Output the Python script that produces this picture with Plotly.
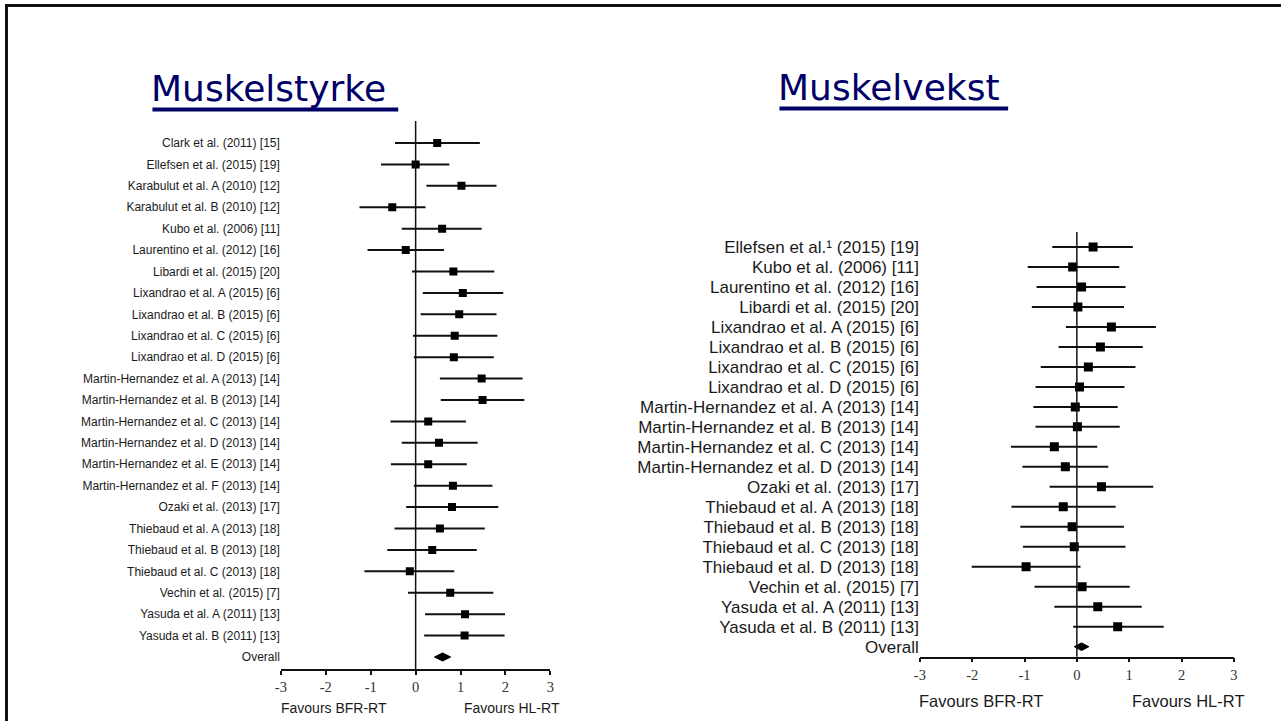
import plotly.graph_objects as go

W, H = 1285, 721

# ---------------- data: Muskelstyrke (left) ----------------
str_labels = [
    "Clark et al. (2011) [15]", "Ellefsen et al. (2015) [19]",
    "Karabulut et al. A (2010) [12]", "Karabulut et al. B (2010) [12]",
    "Kubo et al. (2006) [11]", "Laurentino et al. (2012) [16]",
    "Libardi et al. (2015) [20]", "Lixandrao et al. A (2015) [6]",
    "Lixandrao et al. B (2015) [6]", "Lixandrao et al. C (2015) [6]",
    "Lixandrao et al. D (2015) [6]", "Martin-Hernandez et al. A (2013) [14]",
    "Martin-Hernandez et al. B (2013) [14]", "Martin-Hernandez et al. C (2013) [14]",
    "Martin-Hernandez et al. D (2013) [14]", "Martin-Hernandez et al. E (2013) [14]",
    "Martin-Hernandez et al. F (2013) [14]", "Ozaki et al. (2013) [17]",
    "Thiebaud et al. A (2013) [18]", "Thiebaud et al. B (2013) [18]",
    "Thiebaud et al. C (2013) [18]", "Vechin et al. (2015) [7]",
    "Yasuda et al. A (2011) [13]", "Yasuda et al. B (2011) [13]",
]
str_est = [0.48, 0.00, 1.02, -0.52, 0.59, -0.22, 0.84, 1.05, 0.97, 0.87, 0.85, 1.47,
           1.49, 0.28, 0.52, 0.28, 0.83, 0.81, 0.54, 0.37, -0.13, 0.77, 1.10, 1.09]
str_lo = [-0.46, -0.77, 0.24, -1.25, -0.31, -1.07, -0.08, 0.16, 0.11, -0.06, -0.04, 0.54,
          0.56, -0.56, -0.31, -0.55, -0.04, -0.21, -0.47, -0.63, -1.14, -0.17, 0.21, 0.19]
str_hi = [1.43, 0.75, 1.80, 0.22, 1.47, 0.63, 1.75, 1.95, 1.80, 1.82, 1.74, 2.38,
          2.42, 1.12, 1.38, 1.14, 1.71, 1.84, 1.54, 1.36, 0.86, 1.73, 1.99, 1.98]
str_overall = (0.60, 0.42, 0.78)  # estimate, lower, upper

# ---------------- data: Muskelvekst (right) ----------------
hyp_labels = [
    "Ellefsen et al.\u00b9 (2015) [19]",
    "Kubo et al. (2006) [11]",
    "Laurentino et al. (2012) [16]", "Libardi et al. (2015) [20]",
    "Lixandrao et al. A (2015) [6]", "Lixandrao et al. B (2015) [6]",
    "Lixandrao et al. C (2015) [6]", "Lixandrao et al. D (2015) [6]",
    "Martin-Hernandez et al. A (2013) [14]", "Martin-Hernandez et al. B (2013) [14]",
    "Martin-Hernandez et al. C (2013) [14]", "Martin-Hernandez et al. D (2013) [14]",
    "Ozaki et al. (2013) [17]", "Thiebaud et al. A (2013) [18]",
    "Thiebaud et al. B (2013) [18]", "Thiebaud et al. C (2013) [18]",
    "Thiebaud et al. D (2013) [18]", "Vechin et al. (2015) [7]",
    "Yasuda et al. A (2011) [13]", "Yasuda et al. B (2011) [13]",
]
hyp_est = [0.31, -0.08, 0.09, 0.02, 0.66, 0.45, 0.22, 0.05, -0.03, 0.01,
           -0.43, -0.22, 0.47, -0.26, -0.09, -0.05, -0.97, 0.10, 0.40, 0.78]
hyp_lo = [-0.47, -0.94, -0.77, -0.86, -0.21, -0.35, -0.69, -0.79, -0.83, -0.79,
          -1.26, -1.04, -0.52, -1.25, -1.08, -1.03, -2.01, -0.81, -0.43, -0.07]
hyp_hi = [1.07, 0.81, 0.93, 0.90, 1.51, 1.26, 1.12, 0.91, 0.78, 0.82,
          0.39, 0.60, 1.46, 0.74, 0.90, 0.93, 0.07, 1.01, 1.24, 1.66]
hyp_overall = (0.09, -0.05, 0.23)

x_ticks = [-3, -2, -1, 0, 1, 2, 3]
x_ticktext = ["-3", "-2", "-1", "0", "1", "2", "3"]
fav_left, fav_right = "Favours BFR-RT", "Favours HL-RT"
titles = ["Muskelstyrke", "Muskelvekst"]

fig = go.Figure()

# horizontal calibration of the rendered page
OFF_X, SPAN_X = 9.0, 1271.0


def px_x(p):
    return min(1.0, max(0.0, (p - OFF_X) / SPAN_X))


def px_y(p):
    return 1 - p / H


def add_panel(labels, est, lo, hi, overall, xa, ya, msize, diam_h):
    n = len(labels)
    ys = [n - i for i in range(n)]
    fig.add_trace(go.Scatter(
        x=est, y=ys, mode="markers", xaxis=xa, yaxis=ya,
        marker=dict(symbol="square", size=msize, color="black"),
        error_x=dict(type="data", symmetric=False,
                     array=[h - e for h, e in zip(hi, est)],
                     arrayminus=[e - l for e, l in zip(est, lo)],
                     width=0, thickness=2, color="#111"),
        showlegend=False, hoverinfo="skip"))
    oe, ol, oh = overall
    fig.add_trace(go.Scatter(
        x=[ol, oe, oh, oe, ol], y=[0, diam_h, 0, -diam_h, 0],
        mode="lines", fill="toself", fillcolor="black",
        line=dict(color="black", width=1), xaxis=xa, yaxis=ya,
        showlegend=False, hoverinfo="skip"))
    return ys + [0], labels + ["Overall"]


# panel geometry (target pixels)
L_x0, L_x1 = 283, 551.7
L_row0, L_rowN, L_axis, L_top = 143, 657, 669, 121
L_step = (L_rowN - L_row0) / len(str_labels)
R_x0, R_x1 = 920, 1233
R_row0, R_rowN, R_axis, R_top = 247, 646.7, 656.7, 232
R_step = (R_rowN - R_row0) / len(hyp_labels)

lys, ltxt = add_panel(str_labels, str_est, str_lo, str_hi, str_overall, "x", "y", 8, 0.19)
rys, rtxt = add_panel(hyp_labels, hyp_est, hyp_lo, hyp_hi, hyp_overall, "x2", "y2", 9, 0.19)

xcommon = dict(range=[-3, 3], tickvals=x_ticks, ticktext=x_ticktext,
               showgrid=False, zeroline=False,
               showline=True, linecolor="#111", linewidth=1.5, ticks="outside",
               ticklen=4, tickwidth=1.5, tickcolor="#111",
               tickfont=dict(family="Liberation Serif", size=14.5, color="#333"))

fig.update_layout(
    width=W, height=H, margin=dict(l=0, r=0, t=0, b=0),
    paper_bgcolor="white", plot_bgcolor="white",
    xaxis=dict(domain=[px_x(L_x0), px_x(L_x1)], anchor="y", **xcommon),
    yaxis=dict(domain=[px_y(L_axis), px_y(L_top)], anchor="x",
               range=[-(L_axis - L_rowN) / L_step, (L_rowN - L_top) / L_step],
               tickvals=lys, ticktext=ltxt, showgrid=False, zeroline=False,
               showline=False, ticks="", ticklabelstandoff=0,
               tickfont=dict(family="Liberation Sans", size=12, color="#1a1a1a")),
    xaxis2=dict(domain=[px_x(R_x0), px_x(R_x1)], anchor="y2", **xcommon),
    yaxis2=dict(domain=[px_y(R_axis), px_y(R_top)], anchor="x2",
                range=[-(R_axis - R_rowN) / R_step, (R_rowN - R_top) / R_step],
                tickvals=rys, ticktext=rtxt, showgrid=False, zeroline=False,
                showline=False, ticks="", ticklabelstandoff=0,
                tickfont=dict(family="Liberation Sans", size=17, color="#1a1a1a")),
)

shapes = []
# zero reference lines
for xa, ya in (("x", "y"), ("x2", "y2")):
    shapes.append(dict(type="line", xref=xa, yref=ya + " domain", x0=0, x1=0, y0=0, y1=1,
                       line=dict(color="#111", width=1.5)))
# title underlines
shapes.append(dict(type="line", xref="paper", yref="paper", x0=px_x(155), x1=px_x(400),
                   y0=px_y(109.5), y1=px_y(109.5), line=dict(color="#000066", width=4)))
shapes.append(dict(type="line", xref="paper", yref="paper", x0=px_x(780), x1=px_x(1008),
                   y0=px_y(108.5), y1=px_y(108.5), line=dict(color="#000066", width=4)))
# slide frame
shapes.append(dict(type="line", xref="paper", yref="paper", x0=px_x(8), x1=1,
                   y0=px_y(5.5), y1=px_y(5.5), line=dict(color="#111", width=3)))
shapes.append(dict(type="line", xref="paper", yref="paper", x0=px_x(9.5), x1=px_x(9.5),
                   y0=0, y1=px_y(4), line=dict(color="#111", width=3)))
fig.update_layout(shapes=shapes)

ann = []
tfont = dict(family="DejaVu Sans", size=36, color="#000066")
ann.append(dict(text=titles[0], xref="paper", yref="paper", x=px_x(152), y=px_y(89),
                xanchor="left", yanchor="middle", showarrow=False, font=tfont))
ann.append(dict(text=titles[1], xref="paper", yref="paper", x=px_x(777), y=px_y(88),
                xanchor="left", yanchor="middle", showarrow=False, font=tfont))
lf = dict(family="Liberation Sans", size=14, color="#1a1a1a")
rf = dict(family="Liberation Sans", size=16.5, color="#1a1a1a")
ann.append(dict(text=fav_left, xref="paper", yref="paper", x=px_x(281), y=px_y(708),
                xanchor="left", yanchor="middle", showarrow=False, font=lf))
ann.append(dict(text=fav_right, xref="paper", yref="paper", x=px_x(563), y=px_y(708),
                xanchor="right", yanchor="middle", showarrow=False, font=lf))
ann.append(dict(text=fav_left, xref="paper", yref="paper", x=px_x(917), y=px_y(701),
                xanchor="left", yanchor="middle", showarrow=False, font=rf))
ann.append(dict(text=fav_right, xref="paper", yref="paper", x=px_x(1245), y=px_y(701),
                xanchor="right", yanchor="middle", showarrow=False, font=rf))
fig.update_layout(annotations=ann)

fig.write_html("out.html")
